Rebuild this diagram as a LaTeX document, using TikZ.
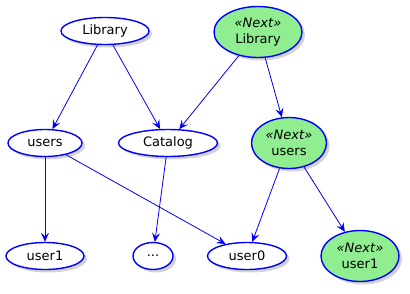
\documentclass[tikz,border=0pt]{standalone}
\usepackage{fontspec}
\setmainfont{DejaVu Sans}
\usetikzlibrary{
    arrows.meta,
    shapes.geometric,
    shadows
}
\definecolor{nextgreen}{HTML}{90EE90}
\tikzset{
  obj/.style={
    ellipse,
    draw=blue,
    line width=1.4pt,
    fill=white,
    inner sep=0pt,
    minimum height=27pt,
    align=center,
    font=\fontsize{13}{16}\selectfont,
    drop shadow={opacity=0.35,shadow xshift=3pt,shadow yshift=-3pt}
  },
  nextobj/.style={
    obj,
    fill=nextgreen,
    minimum height=51pt
  },
  link/.style={
    draw=blue,
    line width=0.8pt,
    -{Stealth[length=9pt,width=8pt,inset=3.5pt]}
  }
}
\newcommand{\nxt}{\textit{«Next»}}

\begin{document}
\begin{tikzpicture}[x=1pt,y=-1pt]
    \useasboundingbox (0,0) rectangle (410,293);

    % top row
    \node[obj,minimum width=88pt] (lib) at (105,31) {Library};
    \node[nextobj,minimum width=88pt] (nextlib) at (258,32) {\nxt\\Library};

    % middle row
    \node[obj,minimum width=74pt] (users) at (45,143) {users};
    \node[obj,minimum width=99pt] (catalog) at (168,143) {Catalog};
    \node[nextobj,minimum width=75pt] (nextusers) at (289,143) {\nxt\\users};

    % bottom row
    \node[obj,minimum width=78pt] (userone) at (45,256) {user1};
    \node[obj,minimum width=40pt] (dots) at (153,256) {...};
    \node[obj,minimum width=79pt] (userzero) at (247,256) {user0};
    \node[nextobj,minimum width=78pt] (nextuserone) at (360,256) {\nxt\\user1};

    % links
    \draw[link] (lib) -- (users);
    \draw[link] (lib) -- (catalog);
    \draw[link] (nextlib) -- (catalog);
    \draw[link] (nextlib) -- (nextusers);
    \draw[link] (users) -- (userone);
    \draw[link] (users) -- (userzero);
    \draw[link] (catalog) -- (dots);
    \draw[link] (nextusers) -- (userzero);
    \draw[link] (nextusers) -- (nextuserone);
\end{tikzpicture}
\end{document}
